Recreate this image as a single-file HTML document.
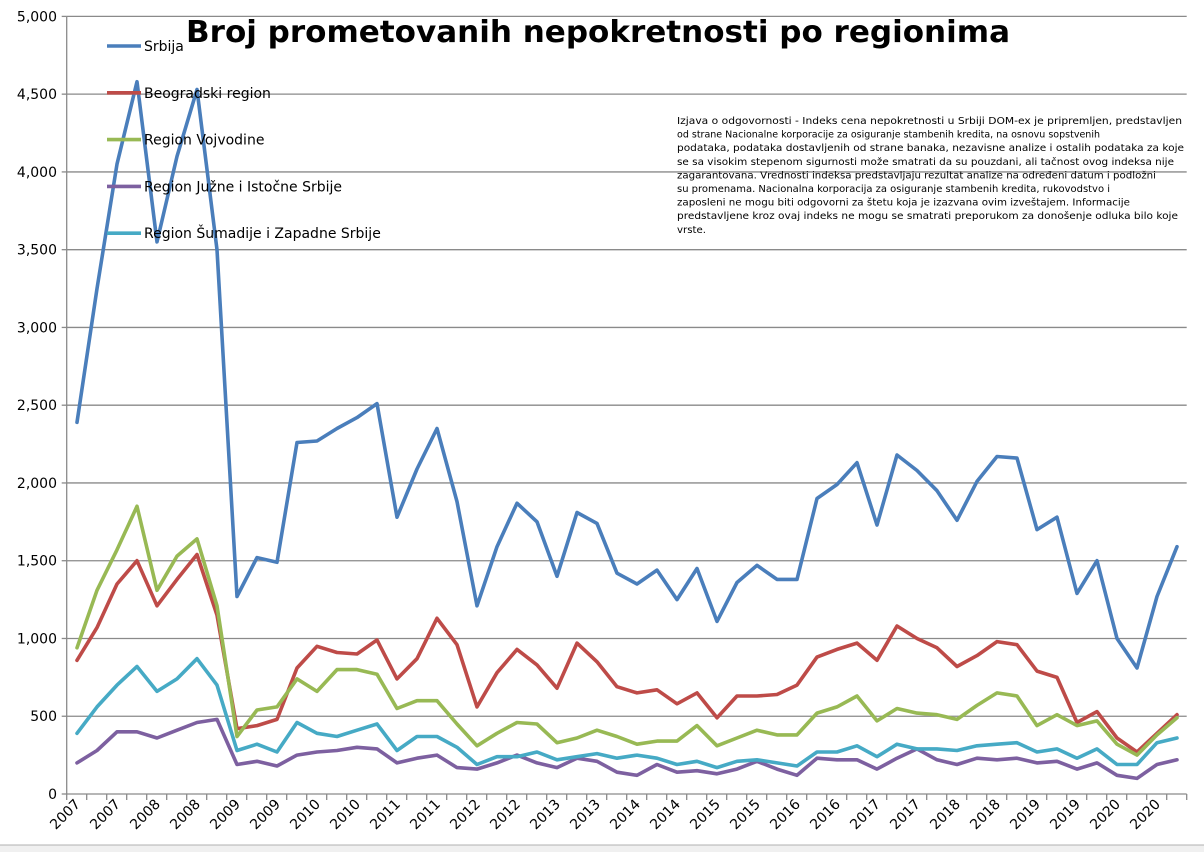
<!DOCTYPE html>
<html><head><meta charset="utf-8"><style>
html,body{margin:0;padding:0;background:#fff;width:1204px;height:852px;overflow:hidden}
svg text{font-family:"DejaVu Sans","Liberation Sans",sans-serif}
</style></head><body>
<svg id="c" width="1204" height="852" xmlns="http://www.w3.org/2000/svg"></svg>
<script>
const S=document.getElementById('c');const NS='http://www.w3.org/2000/svg';
function el(t,a,txt){const e=document.createElementNS(NS,t);for(const k in a)e.setAttribute(k,a[k]);if(txt!==undefined)e.textContent=txt;S.appendChild(e);return e;}
const y0=794,k=0.15552,x0=66.7,x1=1186.7;
const Y=v=>y0-v*k;
for(let v=500;v<=5000;v+=500){el('line',{x1:x0,x2:x1,y1:Y(v),y2:Y(v),stroke:'#8a8a8a','stroke-width':1.3});}
el('line',{x1:x0,x2:x0,y1:Y(5000),y2:y0,stroke:'#8a8a8a','stroke-width':1.3});
el('line',{x1:x0,x2:x1,y1:y0,y2:y0,stroke:'#8a8a8a','stroke-width':1.3});
for(let v=0;v<=5000;v+=500){el('line',{x1:x0-5,x2:x0,y1:Y(v),y2:Y(v),stroke:'#8a8a8a','stroke-width':1.3});
el('text',{x:57,y:Y(v)+5,'text-anchor':'end','font-size':14},v.toLocaleString('en-US'));}
for(let i=0;i<=56;i++){const x=x0+20*i;el('line',{x1:x,x2:x,y1:y0,y2:y0+6,stroke:'#8a8a8a','stroke-width':1.3});}
for(let j=0;j<28;j++){const yr=2007+Math.floor(j/2);const x=77+40*j+4,y=805;
el('text',{x:x,y:y,'text-anchor':'end','font-size':14,transform:`rotate(-45 ${x} ${y})`},String(yr));}
const D={
'#4a7ebb':[2390,3250,4050,4580,3550,4100,4530,3500,1270,1520,1490,2260,2270,2350,2420,2510,1780,2090,2350,1880,1210,1590,1870,1750,1400,1810,1740,1420,1350,1440,1250,1450,1110,1360,1470,1380,1380,1900,1990,2130,1730,2180,2080,1950,1760,2010,2170,2160,1700,1780,1290,1500,1000,810,1270,1590],
'#be4b48':[860,1070,1350,1500,1210,1380,1540,1150,420,440,480,810,950,910,900,990,740,870,1130,960,560,780,930,830,680,970,850,690,650,670,580,650,490,630,630,640,700,880,930,970,860,1080,1000,940,820,890,980,960,790,750,460,530,360,270,390,510],
'#98b954':[940,1310,1570,1850,1310,1530,1640,1210,370,540,560,740,660,800,800,770,550,600,600,450,310,390,460,450,330,360,410,370,320,340,340,440,310,360,410,380,380,520,560,630,470,550,520,510,480,570,650,630,440,510,440,470,320,250,380,490],
'#7d60a0':[200,280,400,400,360,410,460,480,190,210,180,250,270,280,300,290,200,230,250,170,160,200,250,200,170,230,210,140,120,190,140,150,130,160,210,160,120,230,220,220,160,230,290,220,190,230,220,230,200,210,160,200,120,100,190,220],
'#46aac5':[390,560,700,820,660,740,870,700,280,320,270,460,390,370,410,450,280,370,370,300,190,240,240,270,220,240,260,230,250,230,190,210,170,210,220,200,180,270,270,310,240,320,290,290,280,310,320,330,270,290,230,290,190,190,330,360]};
const order=['#4a7ebb','#be4b48','#98b954','#7d60a0','#46aac5'];
for(const c of order){el('polyline',{points:D[c].map((v,i)=>`${77+20*i},${Y(v).toFixed(1)}`).join(' '),fill:'none',stroke:c,'stroke-width':3.6,'stroke-linejoin':'round','stroke-linecap':'round'});}
const names=['Srbija','Beogradski region','Region Vojvodine','Region Južne i Istočne Srbije','Region Šumadije i Zapadne Srbije'];
names.forEach((n,i)=>{const y=46+46.8*i;el('line',{x1:107,x2:141,y1:y,y2:y,stroke:order[i],'stroke-width':3.6});
el('text',{x:144,y:y+5,'font-size':14},n);});
el('text',{x:186,y:42,'font-size':30,'font-weight':'bold',textLength:824,lengthAdjust:'spacingAndGlyphs'},'Broj prometovanih nepokretnosti po regionima');
const L=['Izjava o odgovornosti - Indeks cena nepokretnosti u Srbiji DOM-ex je pripremljen, predstavljen','od strane Nacionalne korporacije za osiguranje stambenih kredita, na osnovu sopstvenih','podataka, podataka dostavljenih od strane banaka, nezavisne analize i ostalih podataka za koje','se sa visokim stepenom sigurnosti može smatrati da su pouzdani, ali tačnost ovog indeksa nije','zagarantovana. Vrednosti indeksa predstavljaju rezultat analize na određeni datum i podložni','su promenama. Nacionalna korporacija za osiguranje stambenih kredita, rukovodstvo i','zaposleni ne mogu biti odgovorni za štetu koja je izazvana ovim izveštajem. Informacije','predstavljene kroz ovaj indeks ne mogu se smatrati preporukom za donošenje odluka bilo koje','vrste.'];
const W=[505,423,507,497,479,433,453,501,29];
L.forEach((t,i)=>{el('text',{x:677,y:124+13.6*i,'font-size':10,textLength:W[i],lengthAdjust:'spacingAndGlyphs'},t);});
el('rect',{x:0,y:845,width:1204,height:7,fill:'#f0f0f0'});
el('line',{x1:0,x2:1204,y1:845,y2:845,stroke:'#b0b0b0','stroke-width':1});
</script>
</body></html>
